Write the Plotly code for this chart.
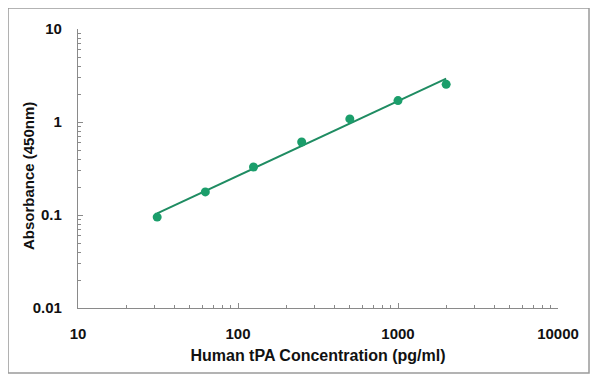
import numpy as np
import plotly.graph_objects as go

concentration = [31.25, 62.5, 125, 250, 500, 1000, 2000]
absorbance = [0.095, 0.177, 0.328, 0.61, 1.08, 1.70, 2.54]

x_tickvals = [10, 100, 1000, 10000]
x_ticktext = ["10", "100", "1000", "10000"]
y_tickvals = [0.01, 0.1, 1, 10]
y_ticktext = ["0.01", "0.1", "1", "10"]

# power-law trendline fitted to the data (log-log linear fit)
lx = np.log10(concentration)
ly = np.log10(absorbance)
slope, intercept = np.polyfit(lx, ly, 1)
fit_x = np.array([concentration[0], concentration[-1]])
fit_y = 10 ** (intercept + slope * np.log10(fit_x))

green = "#1b9e6b"
font = "Liberation Sans, Arial, sans-serif"

fig = go.Figure()
fig.add_trace(go.Scatter(x=fit_x, y=fit_y, mode="lines",
                         line=dict(color="#1f8c62", width=2), showlegend=False))
fig.add_trace(go.Scatter(x=concentration, y=absorbance, mode="markers",
                         marker=dict(color=green, size=9), showlegend=False))

tickfont = dict(family=font, size=15, color="#111", weight="bold")
axis_common = dict(
    type="log", showgrid=False, zeroline=False, showline=True, automargin=False,
    linecolor="#8a8a8a", linewidth=1.2, ticks="inside", ticklen=5,
    tickcolor="#8a8a8a", tickwidth=1,
    minor=dict(ticks="inside", ticklen=3, tickcolor="#8a8a8a", dtick="D1", showgrid=False),
    tickfont=tickfont, ticklabelstandoff=12,
)

fig.update_layout(
    width=592, height=377,
    margin=dict(l=70, r=42, t=21, b=77, autoexpand=False),
    paper_bgcolor="white", plot_bgcolor="white",
    font=dict(family=font),
    xaxis=dict(range=[1, 4], tickvals=x_tickvals, ticktext=x_ticktext,
               title=dict(text="<b>Human tPA Concentration (pg/ml)</b>",
                          font=dict(family=font, size=16, color="#111"), standoff=8),
               **axis_common),
    yaxis=dict(range=[-2, 1], tickvals=y_tickvals, ticktext=y_ticktext,
               **axis_common),
    annotations=[dict(text="<b>Absorbance (450nm)</b>", textangle=-90,
                      xref="paper", yref="paper", x=-0.104, y=0.473,
                      xanchor="center", yanchor="middle", showarrow=False,
                      font=dict(family=font, size=15, color="#111"))],
    shapes=[dict(type="rect", xref="paper", yref="paper",
                 x0=-0.1458, x1=1.0646, y0=-0.233, y1=1.0753,
                 line=dict(color="#9a9a9a", width=1.5), layer="below")],
)

fig.write_html("out.html")
